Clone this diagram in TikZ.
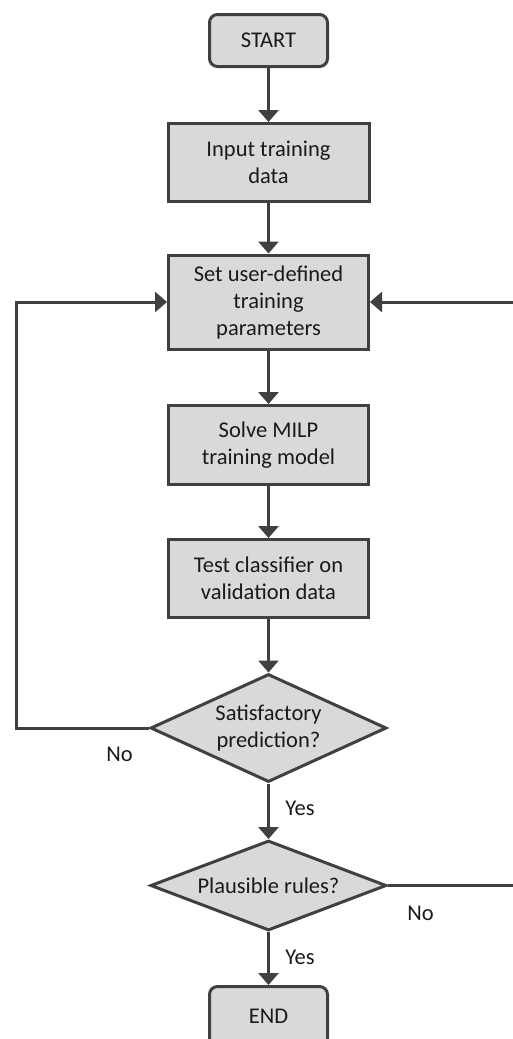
\documentclass[tikz,border=0pt]{standalone}
\usepackage{fontspec}
\setmainfont{Carlito}
\usetikzlibrary{shapes.geometric,arrows.meta}
\definecolor{boxfill}{HTML}{D9D9D9}
\definecolor{edge}{HTML}{404040}
\definecolor{txt}{HTML}{1A1A1A}
\begin{document}
\begin{tikzpicture}[x=1pt,y=-1pt,
  every node/.style={font=\fontsize{22.5}{27}\selectfont, text=txt},
  proc/.style={draw=edge, fill=boxfill, line width=3pt, align=center, inner sep=0pt},
  term/.style={proc, rounded corners=8pt},
  decision/.style={draw=edge, fill=boxfill, line width=3pt, align=center, shape=diamond, inner sep=0pt},
  flow/.style={draw=edge, line width=3pt, -{Triangle[length=12pt,width=20pt]}},
  lbl/.style={inner sep=0pt}]
\useasboundingbox (0,0) rectangle (513,1039);
\clip (0,0) rectangle (513,1039);
\node[term, minimum width=118, minimum height=52] (start) at (268.5,40.5) {START};
\node[proc, minimum width=201, minimum height=78] (input) at (268.5,162.5) {Input training\\data};
\node[proc, minimum width=200, minimum height=94] (set) at (268.5,302) {Set user-defined\\training\\parameters};
\node[proc, minimum width=200, minimum height=79] (solve) at (268.5,445) {Solve MILP\\training model};
\node[proc, minimum width=200, minimum height=78] (test) at (268.5,578.5) {Test classifier on\\validation data};
\node[decision, shape aspect=2.2, minimum width=236, minimum height=108] (sat) at (268.5,728) {Satisfactory\\prediction?};
\node[decision, shape aspect=2.6, minimum width=236, minimum height=90] (plaus) at (268.5,885.5) {Plausible rules?};
\node[term, minimum width=118, minimum height=60] (end) at (268.5,1016.5) {END};
\coordinate (lx) at (16,0);
\coordinate (rx) at (530,0);
\draw[flow] (start) -- (input);
\draw[flow] (input) -- (set);
\draw[flow] (set) -- (solve);
\draw[flow] (solve) -- (test);
\draw[flow] (test) -- (sat);
\draw[flow] (sat) -- (plaus);
\draw[flow] (plaus) -- (end);
\draw[flow] (sat.west) -- (sat.west -| lx) |- (set.west);
\draw[flow] (plaus.east) -- (plaus.east -| rx) |- (set.east);
\node[lbl] (no1) at (119.5,754) {No};
\node[lbl] (yes1) at (300,808) {Yes};
\node[lbl] (no2) at (420.5,913) {No};
\node[lbl] (yes2) at (300,957) {Yes};
\end{tikzpicture}
\end{document}
